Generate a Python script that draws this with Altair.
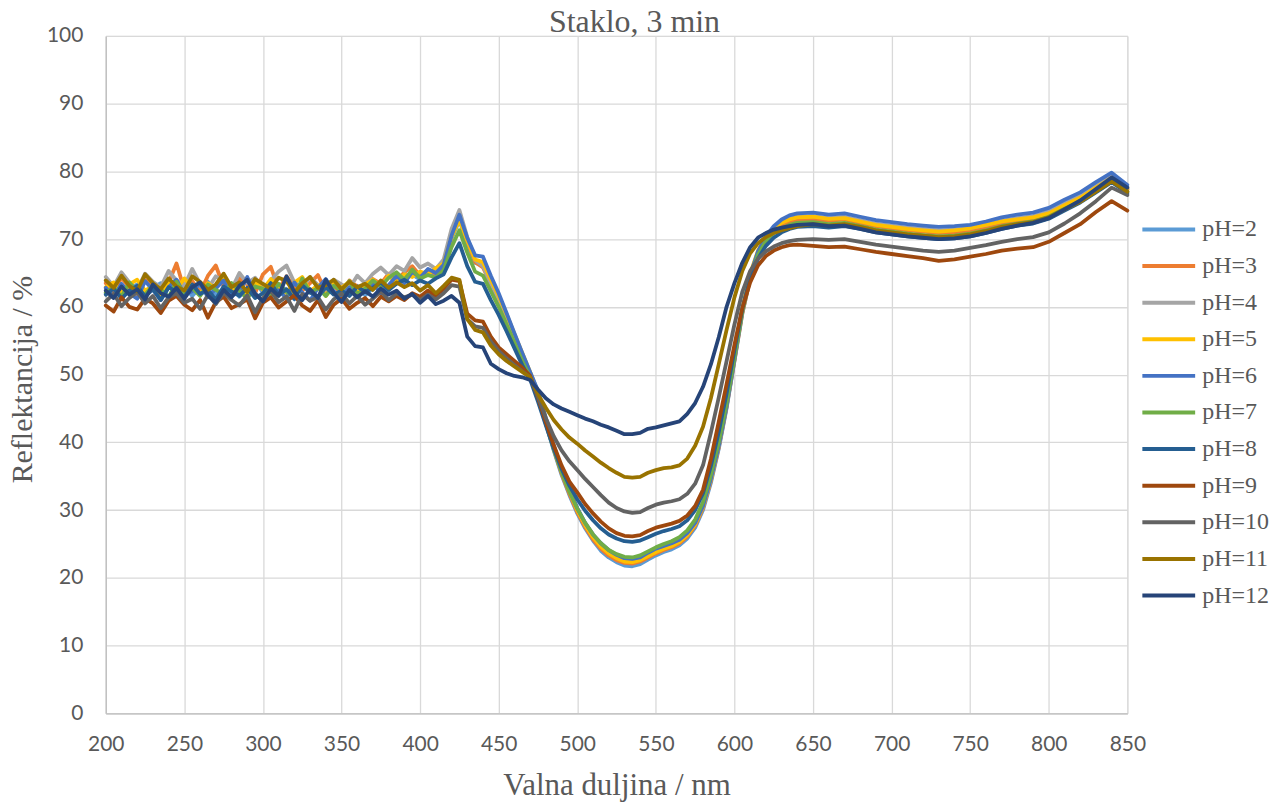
import altair as alt
import pandas as pd

# Wavelength grid (nm): 200-640 every 5 nm, then 650-850 every 10 nm
WL = list(range(200, 645, 5)) + list(range(650, 851, 10))

LABELS = ["pH=2", "pH=3", "pH=4", "pH=5", "pH=6", "pH=7",
          "pH=8", "pH=9", "pH=10", "pH=11", "pH=12"]
COLORS = ["#5B9BD5", "#ED7D31", "#A5A5A5", "#FFC000", "#4472C4", "#70AD47",
          "#255E91", "#9E480E", "#636363", "#997300", "#264478"]
TITLE = "Staklo, 3 min"
X_TITLE = "Valna duljina / nm"
Y_TITLE = "Reflektancija / %"
X_TICKS = [200, 250, 300, 350, 400, 450, 500, 550, 600, 650, 700, 750, 800, 850]
Y_TICKS = [0, 10, 20, 30, 40, 50, 60, 70, 80, 90, 100]

pH2 = [62.0, 63.1, 61.4, 62.6, 63.3, 61.7, 62.8, 63.5, 61.2, 62.4, 63.0, 61.6, 62.9, 63.7, 61.9, 62.2, 63.4, 61.5, 62.7, 63.8,
       62.1, 61.3, 63.2, 62.5, 61.1, 63.3, 62.6, 61.4, 62.9, 63.6, 61.8, 62.3, 63.1, 61.7, 62.8, 63.5, 62.4, 63.9, 64.3, 64.8,
       64.0, 65.1, 64.6, 65.8, 70.0, 72.8, 69.3, 66.5, 66.2, 63.6, 61.1, 58.4, 55.4, 52.6, 49.9, 46.8, 42.8, 38.8, 35.2, 32.2,
       29.5, 27.3, 25.5, 24.0, 23.0, 22.3, 21.8, 21.7, 22.0, 22.7, 23.3, 23.8, 24.2, 24.8, 25.8, 27.4, 30.0, 34.0, 39.0, 45.0,
       52.0, 59.0, 64.2, 67.8, 70.0, 71.3, 72.1, 72.6, 72.9,
       73.0, 72.8, 73.0, 72.5, 72.0, 71.7, 71.4, 71.2, 71.0, 71.1, 71.3, 71.8, 72.4, 72.8, 73.1, 73.8, 75.0, 76.1, 77.6, 79.0, 77.4]

pH3 = [63.5, 62.2, 64.3, 62.9, 61.8, 64.0, 63.1, 62.4, 63.6, 66.4, 62.5, 63.8, 62.1, 64.6, 66.1, 63.0, 61.9, 64.2, 63.3, 62.0,
       64.8, 65.9, 62.6, 64.5, 63.0, 62.4, 63.5, 64.7, 62.2, 63.2, 61.9, 63.9, 63.0, 62.3, 64.1, 63.4, 64.9, 63.8, 65.1, 66.0,
       64.6, 65.4, 64.9, 66.0, 70.6, 73.2, 69.7, 66.6, 65.8, 63.4, 61.0, 58.3, 55.5, 52.7, 49.9, 46.9, 43.0, 39.0, 35.4, 32.4,
       29.7, 27.5, 25.7, 24.3, 23.3, 22.6, 22.2, 22.1, 22.4, 23.0, 23.6, 24.1, 24.5, 25.1, 26.1, 27.7, 30.3, 34.3, 39.2, 45.2,
       52.0, 59.0, 64.1, 67.6, 69.8, 71.1, 72.0, 72.5, 72.8,
       72.9, 72.7, 72.9, 72.4, 71.9, 71.6, 71.3, 71.1, 70.9, 71.0, 71.2, 71.7, 72.3, 72.7, 73.0, 73.7, 74.9, 76.0, 77.5, 78.9, 77.3]

pH4 = [64.4, 63.0, 65.1, 63.6, 62.5, 64.9, 63.7, 62.9, 65.3, 63.9, 63.1, 65.6, 63.4, 62.7, 64.5, 63.8, 62.6, 65.0, 63.5, 64.3,
       62.8, 63.9, 65.2, 66.1, 63.6, 62.9, 64.4, 63.2, 62.5, 64.0, 63.3, 62.7, 64.6, 63.5, 64.9, 65.8, 64.7, 66.0, 65.3, 67.2,
       65.8, 66.4, 65.6, 67.0, 71.5, 74.3, 70.3, 66.9, 66.0, 63.5, 61.2, 58.6, 55.8, 53.0, 50.1, 47.1, 43.3, 39.3, 35.8, 32.8,
       30.2, 28.0, 26.2, 24.8, 23.8, 23.1, 22.7, 22.6, 22.9, 23.5, 24.1, 24.6, 25.0, 25.6, 26.6, 28.2, 30.8, 34.8, 39.6, 45.6,
       52.4, 59.3, 64.4, 68.0, 70.2, 71.6, 72.5, 73.0, 73.3,
       73.4, 73.1, 73.3, 72.8, 72.3, 72.0, 71.7, 71.5, 71.3, 71.4, 71.6, 72.1, 72.7, 73.1, 73.4, 74.1, 75.3, 76.4, 77.9, 79.3, 77.7]

pH5 = [62.9, 63.6, 62.1, 63.3, 64.0, 62.4, 63.1, 61.8, 63.7, 62.6, 64.2, 62.8, 61.9, 63.5, 62.7, 64.3, 62.2, 63.0, 61.7, 63.8,
       62.5, 64.1, 62.9, 62.0, 63.6, 64.4, 62.3, 63.2, 61.6, 63.4, 62.8, 63.7, 62.1, 63.3, 64.0, 62.9, 64.6, 63.5, 64.8, 64.4,
       65.2, 64.8, 65.7, 66.4, 70.3, 72.8, 69.8, 67.0, 66.6, 64.0, 61.6, 58.9, 56.0, 53.2, 50.4, 47.4, 43.4, 39.4, 35.8, 32.8,
       30.0, 27.8, 26.0, 24.6, 23.6, 22.9, 22.4, 22.3, 22.6, 23.2, 23.8, 24.3, 24.7, 25.3, 26.3, 27.9, 30.5, 34.5, 39.5, 45.6,
       52.6, 59.8, 64.9, 68.3, 70.4, 71.6, 72.4, 72.9, 73.2,
       73.3, 73.0, 73.1, 72.6, 72.1, 71.8, 71.5, 71.3, 71.1, 71.3, 71.6, 72.1, 72.6, 72.9, 73.2, 73.8, 75.0, 76.1, 77.6, 79.0, 77.5]

pH6 = [62.8, 61.5, 63.4, 62.0, 61.2, 63.8, 62.5, 61.0, 62.9, 64.0, 61.8, 62.3, 63.5, 61.4, 62.7, 63.9, 61.6, 62.2, 64.4, 62.0,
       60.8, 63.1, 62.4, 61.3, 63.6, 62.1, 60.9, 62.8, 64.1, 62.3, 61.5, 62.9, 61.8, 62.6, 63.4, 62.0, 63.2, 64.6, 63.5, 65.2,
       64.3, 65.6, 65.0, 66.2, 70.5, 73.6, 70.2, 67.6, 67.4, 64.6, 62.0, 59.1, 56.1, 53.2, 50.4, 47.6, 43.6, 39.6, 36.1, 33.1,
       30.3, 28.1, 26.4, 25.1, 24.1, 23.4, 22.9, 22.8, 23.0, 23.7, 24.3, 24.7, 25.1, 25.6, 26.6, 28.1, 30.6, 34.6, 39.4, 45.3,
       52.2, 59.4, 64.6, 68.2, 70.4, 71.9, 72.9, 73.5, 73.8,
       73.9, 73.6, 73.8, 73.3, 72.8, 72.5, 72.2, 72.0, 71.8, 71.9, 72.1, 72.6, 73.2, 73.6, 73.9, 74.6, 75.8, 76.9, 78.4, 79.8, 78.0]

pH7 = [62.1, 62.9, 61.5, 63.6, 62.3, 61.8, 63.2, 62.6, 61.4, 63.7, 62.0, 62.8, 61.6, 63.3, 62.5, 61.9, 63.5, 62.4, 61.2, 63.0,
       62.7, 61.7, 63.4, 62.2, 61.5, 64.2, 62.1, 62.8, 61.6, 63.1, 62.4, 63.8, 61.9, 62.7, 63.9, 63.0, 64.3, 65.1, 64.0, 65.5,
       64.2, 64.7, 64.3, 65.4, 68.8, 71.3, 68.0, 65.2, 64.6, 62.3, 60.0, 57.4, 54.7, 52.0, 49.6, 46.6, 42.8, 39.0, 35.6, 32.7,
       30.2, 28.1, 26.4, 25.1, 24.1, 23.5, 23.1, 23.0, 23.3, 23.9, 24.5, 25.0, 25.4, 26.0, 27.0, 28.6, 31.2, 35.2, 40.0, 45.8,
       52.5, 59.3, 64.3, 67.7, 69.7, 70.9, 71.6, 72.1, 72.4,
       72.5, 72.2, 72.4, 71.9, 71.4, 71.1, 70.8, 70.6, 70.4, 70.5, 70.8, 71.3, 71.9, 72.3, 72.6, 73.3, 74.5, 75.6, 77.1, 78.6, 77.0]

pH8 = [61.8, 62.7, 61.2, 62.4, 63.1, 61.5, 62.6, 61.0, 62.9, 62.2, 61.4, 63.3, 61.9, 62.5, 61.1, 63.0, 62.3, 61.6, 62.8, 61.3,
       62.0, 63.5, 61.7, 62.6, 61.2, 63.2, 62.1, 61.5, 62.9, 61.8, 62.4, 61.6, 63.0, 62.2, 62.8, 63.6, 62.5, 63.4, 64.0, 63.2,
       63.9, 63.4, 64.2, 64.8, 67.3, 69.4, 66.0, 63.7, 63.4, 61.0, 58.8, 56.4, 53.9, 51.4, 49.3, 46.0, 42.5, 39.1, 36.1, 33.6,
       31.6, 29.9, 28.5, 27.3, 26.4, 25.8, 25.4, 25.3, 25.5, 26.0, 26.5, 26.9, 27.2, 27.6, 28.5, 30.0, 32.5, 36.5, 41.5, 47.2,
       53.6, 59.7, 64.2, 67.1, 69.0, 70.2, 71.0, 71.5, 71.8,
       71.9, 71.7, 71.9, 71.5, 71.0, 70.7, 70.4, 70.2, 70.0, 70.1, 70.4, 70.9, 71.5, 72.0, 72.3, 73.0, 74.2, 75.4, 76.9, 78.4, 76.8]

pH9 = [60.2, 59.3, 61.4, 60.0, 59.6, 61.2, 60.5, 59.1, 60.9, 61.6, 60.3, 59.5, 61.0, 58.4, 60.7, 61.5, 59.8, 60.4, 61.1, 58.3,
       60.6, 61.4, 59.9, 60.8, 61.7, 60.2, 59.4, 61.0, 58.5, 60.3, 61.2, 59.7, 60.6, 61.3, 60.1, 61.5, 60.8, 61.6, 61.0, 62.0,
       61.5, 62.4, 61.6, 62.7, 64.0, 63.8, 59.0, 58.0, 57.8, 55.6, 54.0, 53.0, 52.0, 51.0, 49.8, 46.6, 43.0, 39.6, 36.6, 34.2,
       32.6, 30.9, 29.5, 28.3, 27.3, 26.6, 26.2, 26.1, 26.3, 26.9, 27.4, 27.7, 28.0, 28.4, 29.2, 30.6, 33.0, 37.5, 43.0, 48.6,
       54.4, 59.8, 63.6, 66.1, 67.5, 68.3, 68.8, 69.1, 69.2,
       69.0, 68.8, 68.9, 68.5, 68.1, 67.8, 67.5, 67.2, 66.8, 67.0, 67.4, 67.8, 68.3, 68.6, 68.8, 69.6, 70.9, 72.2, 74.0, 75.6, 74.2]

pH10 = [60.8, 61.9, 60.1, 61.3, 62.2, 60.5, 61.6, 59.8, 61.4, 62.0, 60.6, 61.2, 59.7, 61.8, 60.4, 62.1, 61.0, 60.2, 61.7, 59.2,
        61.3, 62.4, 60.7, 61.5, 59.4, 61.9, 60.9, 61.4, 59.6, 61.1, 62.0, 60.5, 61.6, 60.3, 61.2, 62.3, 61.0, 62.0, 61.4, 61.8,
        61.0, 61.8, 61.1, 62.0, 63.2, 63.0, 58.2, 57.1, 56.9, 54.9, 53.5, 52.4, 51.4, 50.5, 49.6, 46.8, 43.6, 40.9, 38.8, 37.2,
        35.9, 34.6, 33.4, 32.2, 31.1, 30.3, 29.8, 29.6, 29.7, 30.3, 30.8, 31.1, 31.3, 31.6, 32.4, 33.9, 36.6, 41.4, 46.6, 52.0,
        57.4, 62.2, 65.3, 67.1, 68.2, 68.9, 69.4, 69.7, 69.9,
        70.0, 69.9, 70.0, 69.6, 69.2, 68.9, 68.6, 68.3, 68.1, 68.3, 68.7, 69.1, 69.6, 70.0, 70.3, 71.0, 72.3, 73.8, 75.6, 77.6, 76.5]

pH11 = [63.9, 62.8, 64.6, 63.1, 62.3, 64.8, 63.5, 62.6, 64.2, 63.0, 62.4, 64.5, 63.7, 62.5, 63.3, 64.9, 62.9, 63.6, 62.2, 64.1,
        63.4, 62.7, 64.3, 63.8, 62.1, 63.5, 64.4, 62.8, 63.2, 64.0, 62.6, 63.7, 62.9, 63.4, 62.5, 63.9, 62.8, 63.6, 62.9, 63.5,
        62.4, 63.2, 62.0, 63.1, 64.3, 64.0, 58.2, 56.6, 56.2, 54.3, 53.0, 52.0, 51.2, 50.4, 49.6, 47.1, 45.1, 43.3, 41.9, 40.7,
        39.8, 38.8, 37.9, 37.0, 36.2, 35.5, 34.9, 34.8, 34.9, 35.5, 35.9, 36.2, 36.3, 36.6, 37.6, 39.5, 42.3, 46.5, 51.5, 56.6,
        61.4, 65.3, 67.9, 69.4, 70.3, 70.9, 71.3, 71.6, 71.9,
        72.2, 72.0, 72.2, 71.8, 71.3, 71.0, 70.7, 70.5, 70.3, 70.4, 70.7, 71.2, 71.8, 72.2, 72.5, 73.2, 74.4, 75.5, 77.0, 78.5, 77.0]

pH12 = [62.4, 61.3, 63.0, 61.8, 62.6, 61.1, 63.3, 62.0, 61.5, 62.8, 61.2, 62.9, 63.6, 61.7, 60.6, 62.5, 61.4, 63.1, 64.0, 61.9,
        60.8, 62.7, 61.6, 64.5, 62.2, 61.0, 62.6, 61.3, 64.0, 62.1, 60.7, 62.5, 61.4, 62.3, 61.5, 62.7, 61.8, 62.4, 61.2, 61.9,
        60.6, 61.6, 60.4, 60.9, 61.6, 60.6, 55.6, 54.2, 54.0, 51.6, 50.8, 50.2, 49.8, 49.6, 49.2, 47.8, 46.5, 45.6, 45.0, 44.5,
        44.0, 43.5, 43.1, 42.6, 42.2, 41.7, 41.2, 41.2, 41.4, 42.0, 42.2, 42.5, 42.8, 43.1, 44.2, 45.8, 48.2, 51.5, 55.5, 60.0,
        63.5, 66.5, 68.8, 70.2, 70.9, 71.4, 71.7, 71.9, 72.1,
        72.2, 71.9, 72.0, 71.5, 71.0, 70.7, 70.4, 70.2, 70.0, 70.1, 70.4, 70.9, 71.5, 72.0, 72.4, 73.1, 74.4, 75.7, 77.4, 79.1, 77.6]

SERIES = [pH2, pH3, pH4, pH5, pH6, pH7, pH8, pH9, pH10, pH11, pH12]

rows = []
for order, (lab, vals) in enumerate(zip(LABELS, SERIES)):
    assert len(vals) == len(WL), (lab, len(vals), len(WL))
    for w, v in zip(WL, vals):
        rows.append({"wl": w, "R": v, "series": lab, "order": order})
df = pd.DataFrame(rows)

TXT = "#595959"
SERIF = "Liberation Serif"
SANS = "Lato"

x_enc = alt.X("wl:Q",
              scale=alt.Scale(domain=[200, 850], nice=False, zero=False),
              axis=alt.Axis(values=X_TICKS, title=X_TITLE,
                            titleFont=SERIF, titleFontSize=31, titleFontWeight="normal", titleColor=TXT,
                            titleX=512, titleY=81, titleBaseline="alphabetic", titleAlign="center",
                            labelFont=SANS, labelFontSize=21, labelColor=TXT, labelPadding=20,
                            labelFlush=False, labelOverlap=False,
                            ticks=False, grid=True, gridColor="#D9D9D9", gridWidth=1.3,
                            domainColor="#BFBFBF", domainWidth=1.3))
y_enc = alt.Y("R:Q",
              scale=alt.Scale(domain=[0, 100], nice=False),
              axis=alt.Axis(values=Y_TICKS, title=Y_TITLE,
                            titleFont=SERIF, titleFontSize=30, titleFontWeight="normal", titleColor=TXT,
                            titleX=-74, titleY=344, titleAngle=-90, titleBaseline="alphabetic",
                            titleAlign="center",
                            labelFont=SANS, labelFontSize=21, labelColor=TXT, labelPadding=23,
                            labelFlush=False, labelOverlap=False,
                            ticks=False, grid=True, gridColor="#D9D9D9", gridWidth=1.3,
                            domainColor="#BFBFBF", domainWidth=1.3))

layers = []
for i, lab in enumerate(LABELS):
    layers.append(
        alt.Chart(df[df["series"] == lab]).mark_line(strokeWidth=3.8, strokeJoin="round", strokeCap="round").encode(
            x=x_enc,
            y=y_enc,
            color=alt.Color("series:N",
                            scale=alt.Scale(domain=LABELS, range=COLORS),
                            legend=alt.Legend(title=None, orient="none", legendX=1037, legendY=182,
                                              symbolType="stroke", symbolSize=2800, symbolStrokeWidth=4,
                                              labelFont=SERIF, labelFontSize=24, labelColor=TXT,
                                              labelOffset=5, rowPadding=12.7, clipHeight=24, padding=0,
                                              labelLimit=200)),
        )
    )

title_layer = alt.Chart(pd.DataFrame({"t": [TITLE]})).mark_text(
    font=SERIF, fontSize=32, color=TXT, align="center", baseline="alphabetic"
).encode(text="t:N", x=alt.value(530), y=alt.value(-4))

chart = alt.layer(*layers, title_layer).properties(
    width=1024,
    height=679,
    autosize=alt.AutoSizeParams(type="none"),
    padding={"left": 98, "top": 27, "right": 150, "bottom": 91},
).configure_view(stroke=None).configure(background="white")

chart.save("out.html", embed_options={"renderer": "svg", "actions": False})
